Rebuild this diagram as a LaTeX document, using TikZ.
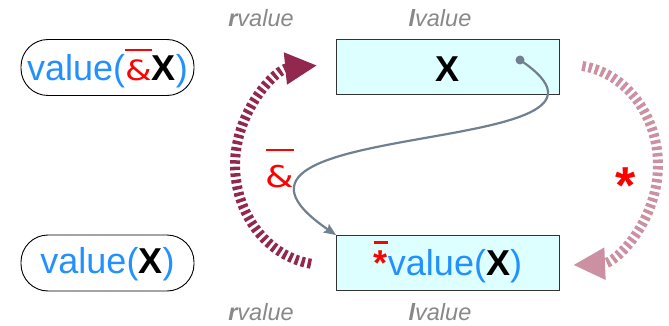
\documentclass[tikz,border=0pt]{standalone}
\usepackage{fontspec}
\usepackage{graphicx}
\setmainfont{Liberation Sans}
\newfontfamily\ampfont{DejaVu Sans}
\usetikzlibrary{arrows.meta}
\definecolor{vblue}{HTML}{2290FF}
\definecolor{boxfill}{HTML}{DDFFFF}
\definecolor{darkarc}{HTML}{93284F}
\definecolor{lightarc}{HTML}{CB90A2}
\definecolor{lblgray}{HTML}{888888}
\definecolor{curvecol}{HTML}{708090}
\newsavebox\obarbox
\newcommand\obar[2]{\sbox\obarbox{#2}\rlap{\raisebox{#1}{\rule{\wd\obarbox}{0.08em}}}\usebox\obarbox}
\newcommand\wideamp{\scalebox{1.22}[1]{\ampfont\&}}
\newcommand\BigTxt{\fontsize{36}{40}\selectfont}
\begin{document}
\begin{tikzpicture}[x=1pt,y=-1pt,
  pill/.style={draw=black,line width=0.9pt,rounded corners=27pt,minimum width=173pt,
    minimum height=56pt,inner sep=0pt,text=vblue,font=\BigTxt},
  valbox/.style={draw=black!80,fill=boxfill,line width=0.9pt,minimum width=223pt,
    minimum height=55pt,inner sep=0pt,font=\BigTxt},
  vlabel/.style={text=lblgray,font=\fontsize{23.5}{25}\selectfont\itshape,anchor=base,inner sep=0pt},
  dasharc/.style={line width=10pt,dash pattern=on 3.5pt off 3pt,
    -{Triangle[length=32pt,width=30pt]}},
  ptr/.style={draw=curvecol,line width=2.2pt,-{Stealth[length=12pt,width=10pt,inset=2pt]}}]
\useasboundingbox (0,0) rectangle (669,326);

% value nodes (pills)
\node[pill,text height=27pt,text depth=0pt] (p1) at (107.5,67.5)
  {value(\textcolor{red}{\fontsize{28}{28}\selectfont\obar{30pt}{\wideamp}}\textcolor{black}{\bfseries X})};
\node[pill,text height=26pt,text depth=6pt] (p2) at (107.5,263)
  {value(\textcolor{black}{\bfseries X})};

% boxes
\node[valbox,text height=30pt,text depth=0pt] (b1) at (447.5,67) {\bfseries X};
\node[valbox,text height=27pt,text depth=3pt,text=vblue] (b2) at (448,263)
  {\textcolor{red}{\obar{31pt}{\bfseries *}}value(\textcolor{black}{\bfseries X})};

% labels
\node[vlabel] (rt) at (261,27) {{\bfseries r}value};
\node[vlabel] (lt) at (440,27) {{\bfseries l}value};
\node[vlabel] (rb) at (261,320) {{\bfseries r}value};
\node[vlabel] (lb) at (440,320) {{\bfseries l}value};

% operator labels
\node[anchor=base,inner sep=0pt,text=red,font=\fontsize{30}{30}\selectfont] (amp) at (280,187)
  {\obar{36pt}{\wideamp}};
\node[anchor=base,inner sep=0pt,text=red,font=\fontsize{52}{52}\selectfont\bfseries] (star) at (626,203) {*};

% pointer curve
\fill[curvecol] (520,60) circle (4.5pt) coordinate (dot);
\draw[ptr] (dot) .. controls (670,160) and (160,115) .. (b2.north west);

% dashed arcs
\draw[dasharc,darkarc] (311.0,263.8) arc[start angle=99,end angle=265,x radius=90,y radius=100];
\draw[dasharc,lightarc] (582.2,66.0) arc[start angle=-82,end angle=88,x radius=88,y radius=100];
\end{tikzpicture}
\end{document}
